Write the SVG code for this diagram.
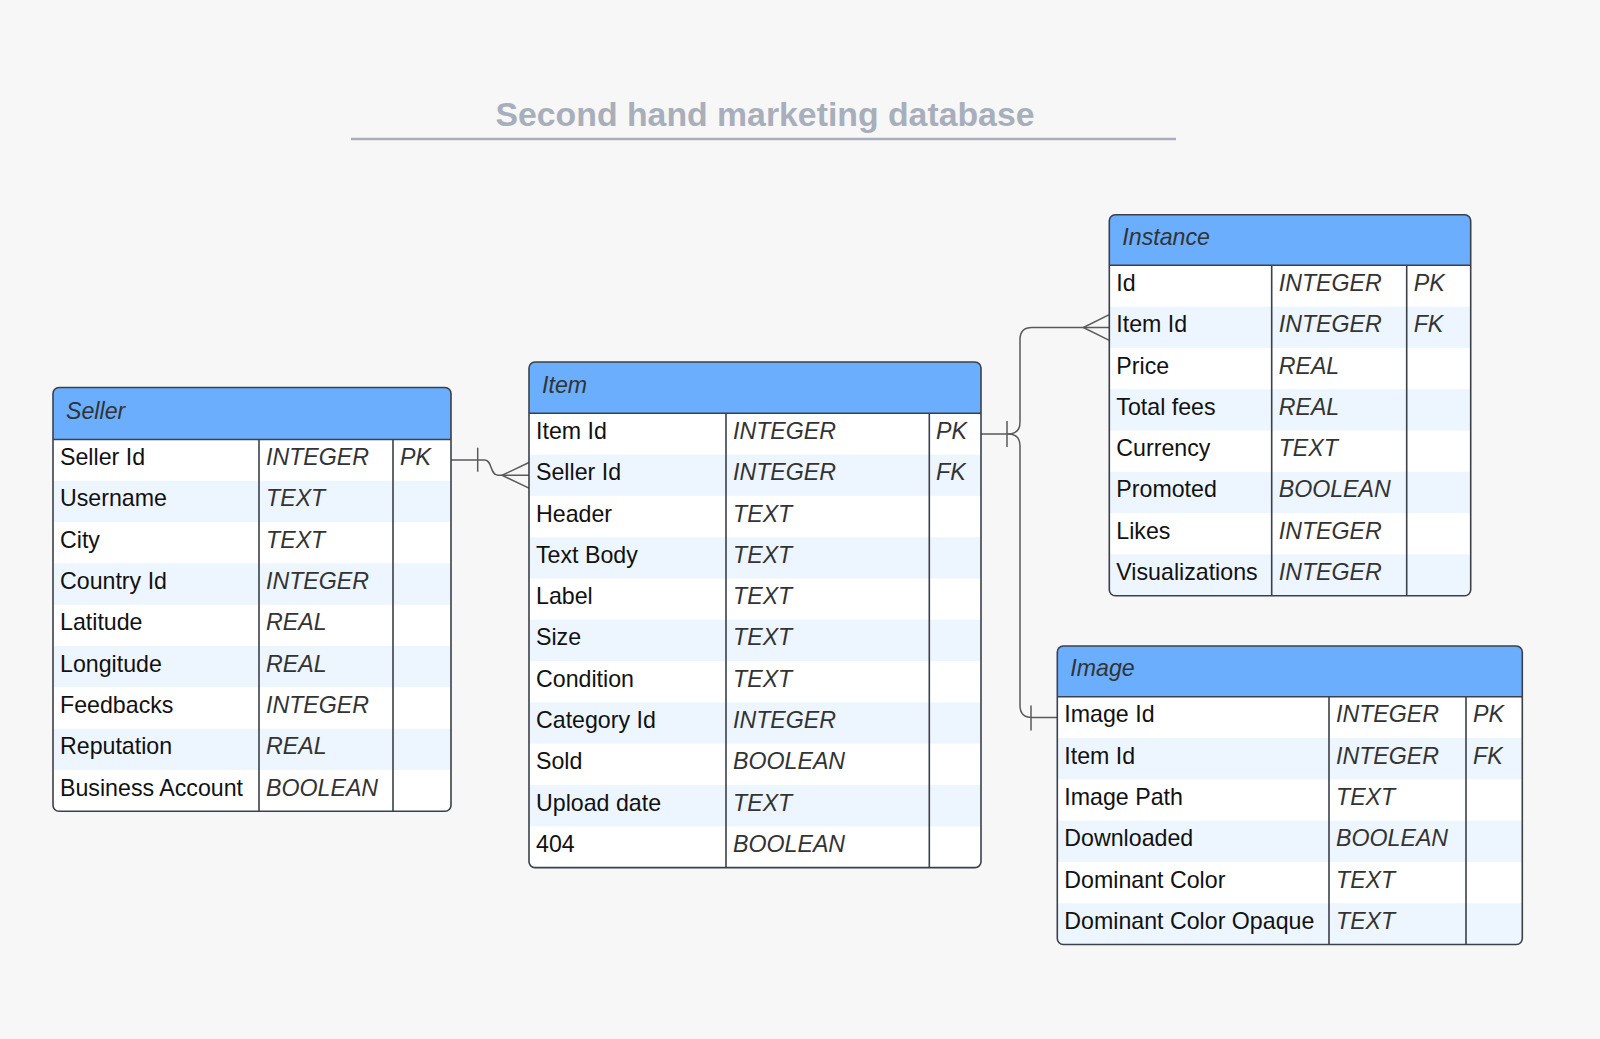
<svg xmlns="http://www.w3.org/2000/svg" width="1600" height="1039" viewBox="0 0 1600 1039">
<style>
text{font-family:"Liberation Sans",Arial,sans-serif;font-size:23.2px}
.title{font-size:33.8px;font-weight:bold;fill:#a8afba}
.hd{fill:#6aaefd}
.alt{fill:#edf5ff}
.body{fill:#ffffff}
.frame{fill:none;stroke:#3b4049;stroke-width:1.6}
.grid{stroke:#3b4049;stroke-width:1.6;fill:none}
.hname{font-style:italic;fill:#333333}
.name{fill:#111111}
.type{font-style:italic;fill:#333333}
.conn{fill:none;stroke:#5a5a5a;stroke-width:1.5}
</style>
<defs>
<clipPath id="cSeller"><rect x="0" y="0" width="398" height="423.7" rx="6"/></clipPath>
<clipPath id="cItem"><rect x="0" y="0" width="452" height="505.6" rx="6"/></clipPath>
<clipPath id="cInstance"><rect x="0" y="0" width="361.4" height="381" rx="6"/></clipPath>
<clipPath id="cImage"><rect x="0" y="0" width="465" height="298.5" rx="6"/></clipPath>
</defs>
<rect x="0" y="0" width="1600" height="1039" fill="#f7f7f7"/>

<g id="title">
<text class="title" x="765" y="126" text-anchor="middle">Second hand marketing database</text>
<line x1="351" y1="139" x2="1176" y2="139" stroke="#a8afba" stroke-width="2.5"/>
</g>

<g id="connectors">
<path class="conn" d="M451,460 L485,460 C492,460 490,475.3 498,475.3 L529,475.3"/>
<path class="conn" d="M529,462.5 L502,475.3 L529,488.1"/>
<path class="conn" d="M477.7,447.7 V471.7"/>
<path class="conn" d="M981,434 L1008,434 Q1020,434 1020,422 L1020,339.5 Q1020,327.5 1032,327.5 L1109.3,327.5"/>
<path class="conn" d="M1109.3,314.7 L1083.3,327.5 L1109.3,340.3"/>
<path class="conn" d="M1008,434 Q1020,434 1020,446 L1020,705.5 Q1020,717.5 1032,717.5 L1057.3,717.5"/>
<path class="conn" d="M1007,421 V447"/>
<path class="conn" d="M1031,705.5 V730.5"/>
</g>

<g id="seller" transform="translate(53,387.5)">
<g clip-path="url(#cSeller)">
<rect class="body" x="0" y="0" width="398" height="423.7"/>
<rect class="hd" x="0" y="0" width="398" height="52"/>
<rect class="alt" x="0" y="93.3" width="398" height="41.3"/>
<rect class="alt" x="0" y="175.9" width="398" height="41.3"/>
<rect class="alt" x="0" y="258.5" width="398" height="41.3"/>
<rect class="alt" x="0" y="341.1" width="398" height="41.3"/>
</g>
<path class="grid" d="M0,52 H398 M206,52 V423.7 M340,52 V423.7"/>
<rect class="frame" x="0" y="0" width="398" height="423.7" rx="6"/>
<text class="hname" x="13" y="31">Seller</text>
<text class="name" x="7" y="77.65">Seller Id</text><text class="type" x="213" y="77.65">INTEGER</text><text class="type" x="347" y="77.65">PK</text>
<text class="name" x="7" y="118.95">Username</text><text class="type" x="213" y="118.95">TEXT</text>
<text class="name" x="7" y="160.25">City</text><text class="type" x="213" y="160.25">TEXT</text>
<text class="name" x="7" y="201.55">Country Id</text><text class="type" x="213" y="201.55">INTEGER</text>
<text class="name" x="7" y="242.85">Latitude</text><text class="type" x="213" y="242.85">REAL</text>
<text class="name" x="7" y="284.15">Longitude</text><text class="type" x="213" y="284.15">REAL</text>
<text class="name" x="7" y="325.45">Feedbacks</text><text class="type" x="213" y="325.45">INTEGER</text>
<text class="name" x="7" y="366.75">Reputation</text><text class="type" x="213" y="366.75">REAL</text>
<text class="name" x="7" y="408.05">Business Account</text><text class="type" x="213" y="408.05">BOOLEAN</text>
</g>

<g id="item" transform="translate(529,362)">
<g clip-path="url(#cItem)">
<rect class="body" x="0" y="0" width="452" height="505.6"/>
<rect class="hd" x="0" y="0" width="452" height="51.3"/>
<rect class="alt" x="0" y="92.6" width="452" height="41.3"/>
<rect class="alt" x="0" y="175.2" width="452" height="41.3"/>
<rect class="alt" x="0" y="257.8" width="452" height="41.3"/>
<rect class="alt" x="0" y="340.4" width="452" height="41.3"/>
<rect class="alt" x="0" y="423" width="452" height="41.3"/>
</g>
<path class="grid" d="M0,51.3 H452 M197,51.3 V505.6 M400.3,51.3 V505.6"/>
<rect class="frame" x="0" y="0" width="452" height="505.6" rx="6"/>
<text class="hname" x="13" y="30.65">Item</text>
<text class="name" x="7" y="76.95">Item Id</text><text class="type" x="204" y="76.95">INTEGER</text><text class="type" x="407" y="76.95">PK</text>
<text class="name" x="7" y="118.25">Seller Id</text><text class="type" x="204" y="118.25">INTEGER</text><text class="type" x="407" y="118.25">FK</text>
<text class="name" x="7" y="159.55">Header</text><text class="type" x="204" y="159.55">TEXT</text>
<text class="name" x="7" y="200.85">Text Body</text><text class="type" x="204" y="200.85">TEXT</text>
<text class="name" x="7" y="242.15">Label</text><text class="type" x="204" y="242.15">TEXT</text>
<text class="name" x="7" y="283.45">Size</text><text class="type" x="204" y="283.45">TEXT</text>
<text class="name" x="7" y="324.75">Condition</text><text class="type" x="204" y="324.75">TEXT</text>
<text class="name" x="7" y="366.05">Category Id</text><text class="type" x="204" y="366.05">INTEGER</text>
<text class="name" x="7" y="407.35">Sold</text><text class="type" x="204" y="407.35">BOOLEAN</text>
<text class="name" x="7" y="448.65">Upload date</text><text class="type" x="204" y="448.65">TEXT</text>
<text class="name" x="7" y="489.95">404</text><text class="type" x="204" y="489.95">BOOLEAN</text>
</g>

<g id="instance" transform="translate(1109.3,214.7)">
<g clip-path="url(#cInstance)">
<rect class="body" x="0" y="0" width="361.4" height="381"/>
<rect class="hd" x="0" y="0" width="361.4" height="50.6"/>
<rect class="alt" x="0" y="91.9" width="361.4" height="41.3"/>
<rect class="alt" x="0" y="174.5" width="361.4" height="41.3"/>
<rect class="alt" x="0" y="257.1" width="361.4" height="41.3"/>
<rect class="alt" x="0" y="339.7" width="361.4" height="41.3"/>
</g>
<path class="grid" d="M0,50.6 H361.4 M162.4,50.6 V381 M297.4,50.6 V381"/>
<rect class="frame" x="0" y="0" width="361.4" height="381" rx="6"/>
<text class="hname" x="13" y="30.3">Instance</text>
<text class="name" x="7" y="76.25">Id</text><text class="type" x="169.4" y="76.25">INTEGER</text><text class="type" x="304.4" y="76.25">PK</text>
<text class="name" x="7" y="117.55">Item Id</text><text class="type" x="169.4" y="117.55">INTEGER</text><text class="type" x="304.4" y="117.55">FK</text>
<text class="name" x="7" y="158.85">Price</text><text class="type" x="169.4" y="158.85">REAL</text>
<text class="name" x="7" y="200.15">Total fees</text><text class="type" x="169.4" y="200.15">REAL</text>
<text class="name" x="7" y="241.45">Currency</text><text class="type" x="169.4" y="241.45">TEXT</text>
<text class="name" x="7" y="282.75">Promoted</text><text class="type" x="169.4" y="282.75">BOOLEAN</text>
<text class="name" x="7" y="324.05">Likes</text><text class="type" x="169.4" y="324.05">INTEGER</text>
<text class="name" x="7" y="365.35">Visualizations</text><text class="type" x="169.4" y="365.35">INTEGER</text>
</g>

<g id="image" transform="translate(1057.3,646)">
<g clip-path="url(#cImage)">
<rect class="body" x="0" y="0" width="465" height="298.5"/>
<rect class="hd" x="0" y="0" width="465" height="50.7"/>
<rect class="alt" x="0" y="92" width="465" height="41.3"/>
<rect class="alt" x="0" y="174.6" width="465" height="41.3"/>
<rect class="alt" x="0" y="257.2" width="465" height="41.3"/>
</g>
<path class="grid" d="M0,50.7 H465 M271.7,50.7 V298.5 M408.7,50.7 V298.5"/>
<rect class="frame" x="0" y="0" width="465" height="298.5" rx="6"/>
<text class="hname" x="13" y="30.35">Image</text>
<text class="name" x="7" y="76.35">Image Id</text><text class="type" x="278.7" y="76.35">INTEGER</text><text class="type" x="415.7" y="76.35">PK</text>
<text class="name" x="7" y="117.65">Item Id</text><text class="type" x="278.7" y="117.65">INTEGER</text><text class="type" x="415.7" y="117.65">FK</text>
<text class="name" x="7" y="158.95">Image Path</text><text class="type" x="278.7" y="158.95">TEXT</text>
<text class="name" x="7" y="200.25">Downloaded</text><text class="type" x="278.7" y="200.25">BOOLEAN</text>
<text class="name" x="7" y="241.55">Dominant Color</text><text class="type" x="278.7" y="241.55">TEXT</text>
<text class="name" x="7" y="282.85">Dominant Color Opaque</text><text class="type" x="278.7" y="282.85">TEXT</text>
</g>
</svg>
